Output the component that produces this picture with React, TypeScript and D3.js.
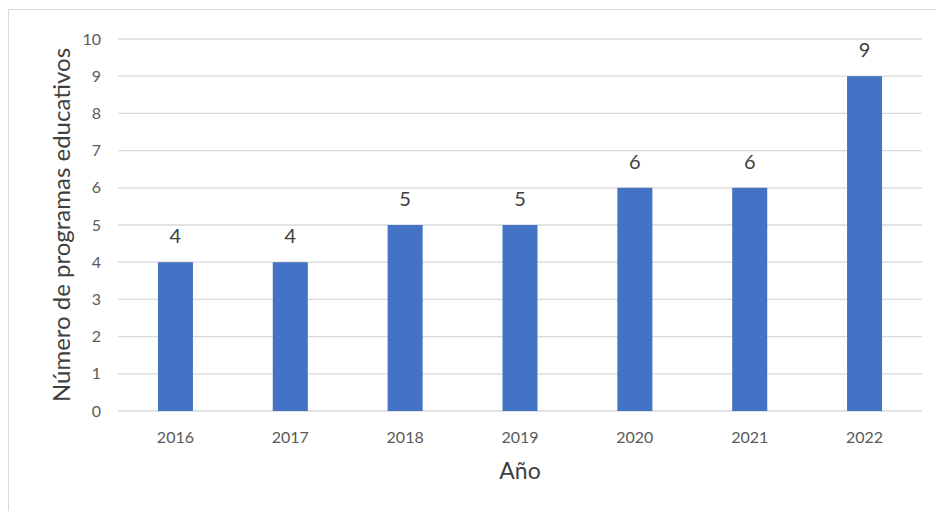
import React from "react";
import * as d3 from "d3";

const years = ["2016", "2017", "2018", "2019", "2020", "2021", "2022"];
const values = [4, 4, 5, 5, 6, 6, 9];
const yTicks = [0, 1, 2, 3, 4, 5, 6, 7, 8, 9, 10];

const W = 936;
const H = 511;
const FONT = "Lato, 'Open Sans', sans-serif";

export default function App() {
  const x = d3.scaleBand<string>().domain(years).range([118, 922]).paddingInner(0.695).paddingOuter(0.3475);
  const y = d3.scaleLinear().domain([0, 10]).range([411, 39]);
  return (
    <svg width={W} height={H} style={{ position: "absolute", left: 0, top: 0 }}>
      <rect x={0} y={0} width={W} height={H} fill="#fff" />
      <rect x={8.5} y={9.5} width={940} height={520} fill="#fff" stroke="#d9d9d9" strokeWidth={1} />
      {yTicks.map((t) => (
        <g key={t}>
          <line x1={118} x2={922} y1={y(t)} y2={y(t)} stroke="#d9d9d9" strokeWidth={1.3} />
          <text x={101} y={y(t)} dy="0.35em" textAnchor="end" fontFamily={FONT} fontSize={16} fill="#595959">
            {t}
          </text>
        </g>
      ))}
      {years.map((yr, i) => (
        <g key={yr}>
          <rect x={x(yr)} y={y(values[i])} width={x.bandwidth()} height={y(0) - y(values[i])} fill="#4472C4" />
          <text
            x={(x(yr) as number) + x.bandwidth() / 2}
            y={y(values[i]) - 19}
            textAnchor="middle"
            fontFamily={FONT}
            fontSize={20}
            fill="#404040"
          >
            {values[i]}
          </text>
          <text
            x={(x(yr) as number) + x.bandwidth() / 2}
            y={443}
            textAnchor="middle"
            fontFamily={FONT}
            fontSize={16}
            fill="#595959"
          >
            {yr}
          </text>
        </g>
      ))}
      <text x={520} y={479} textAnchor="middle" fontFamily={FONT} fontSize={23} fill="#404040">
        Año
      </text>
      <text
        transform={`translate(70, 225) rotate(-90)`}
        textAnchor="middle"
        fontFamily={FONT}
        fontSize={24}
        fill="#404040"
      >
        Número de programas educativos
      </text>
    </svg>
  );
}
